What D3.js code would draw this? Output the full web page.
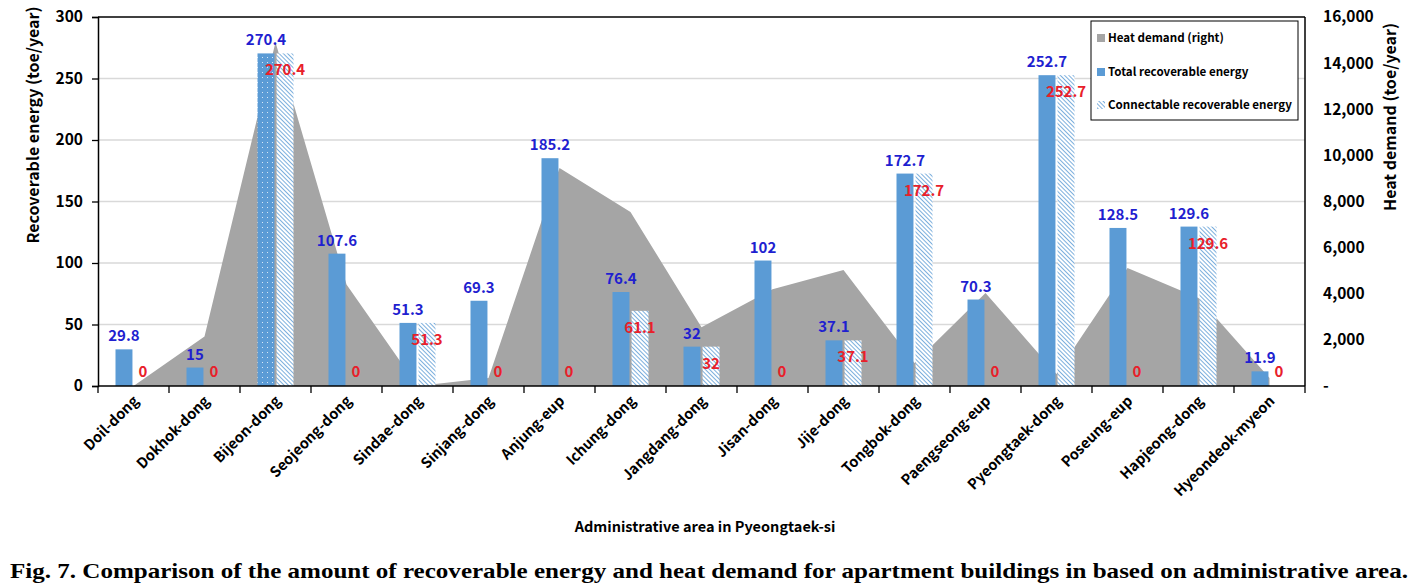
<!DOCTYPE html>
<html><head><meta charset="utf-8">
<script src="https://cdn.jsdelivr.net/npm/d3@7"></script>
<style>
html,body{margin:0;padding:0;background:#fff;}
svg{display:block;}
text{font-family:"Noto Sans CJK KR","Noto Sans",sans-serif;font-weight:bold;}
</style></head>
<body>
<svg id="chart" width="1422" height="588"></svg>
<script>
const categories = ["Doil-dong","Dokhok-dong","Bijeon-dong","Seojeong-dong","Sindae-dong","Sinjang-dong","Anjung-eup","Ichung-dong","Jangdang-dong","Jisan-dong","Jije-dong","Tongbok-dong","Paengseong-eup","Pyeongtaek-dong","Poseung-eup","Hapjeong-dong","Hyeondeok-myeon"];
const totalEnergy = [29.8,15,270.4,107.6,51.3,69.3,185.2,76.4,32,102,37.1,172.7,70.3,252.7,128.5,129.6,11.9];
const connectableEnergy = [0,0,270.4,0,51.3,0,0,61.1,32,0,37.1,172.7,0,252.7,0,129.6,0];
const heatDemand = [0,2150,14900,4400,0,350,9450,7550,2550,4200,5030,1000,4030,520,5120,3820,350];
const leftTicks = [0,50,100,150,200,250,300];
const rightTicks = [0,2000,4000,6000,8000,10000,12000,14000,16000];
const seriesNames = ["Heat demand (right)","Total recoverable energy","Connectable recoverable energy"];

const svg = d3.select("#chart");
const M = {left:98,right:1305,top:17,bottom:386};
const x = d3.scaleBand().domain(categories).range([M.left,M.right]);
const inner = d3.scaleBand().domain(["total","conn"]).range([0,36]).paddingInner(0.11);
const y = d3.scaleLinear().domain([0,300]).range([M.bottom,M.top]);
const yR = d3.scaleLinear().domain([0,16000]).range([M.bottom,M.top]);
const cx = c => x(c) + x.bandwidth()/2;
const barX = (c,k) => cx(c) - 18 + inner(k);

const defs = svg.append("defs");
const hp = defs.append("pattern").attr("id","hatch").attr("patternUnits","userSpaceOnUse")
  .attr("width",3).attr("height",3).attr("patternTransform","rotate(-45)");
hp.append("rect").attr("width",3).attr("height",3).attr("fill","#ffffff");
hp.append("line").attr("x1",0).attr("y1",0).attr("x2",0).attr("y2",3).attr("stroke","#5b9bd5").attr("stroke-width",1.6);
const dp = defs.append("pattern").attr("id","dots").attr("patternUnits","userSpaceOnUse").attr("width",5).attr("height",5);
dp.append("rect").attr("width",5).attr("height",5).attr("fill","#5b9bd5");
dp.append("rect").attr("x",2).attr("y",2).attr("width",1).attr("height",1).attr("fill","#d8e8f7");

// gridlines
svg.append("g").selectAll("line").data(leftTicks.filter(t=>t>0 && t<300)).join("line")
  .attr("x1",M.left).attr("x2",M.right).attr("y1",d=>y(d)).attr("y2",d=>y(d))
  .attr("stroke","#d9d9d9").attr("stroke-width",1.3);

// area
const area = d3.area().x((d,i)=>cx(categories[i])).y0(yR(0)).y1(d=>yR(d));
svg.append("path").datum(heatDemand).attr("d",area).attr("fill","#a5a5a5");

// bars
svg.append("g").selectAll("rect").data(categories).join("rect")
  .attr("x",c=>barX(c,"total")).attr("width",inner.bandwidth())
  .attr("y",(c,i)=>y(totalEnergy[i])).attr("height",(c,i)=>y(0)-y(totalEnergy[i]))
  .attr("fill",(c,i)=> i===2 ? "url(#dots)" : "#5b9bd5");
svg.append("g").selectAll("rect").data(categories).join("rect")
  .attr("x",c=>barX(c,"conn")).attr("width",inner.bandwidth())
  .attr("y",(c,i)=>y(connectableEnergy[i])).attr("height",(c,i)=>y(0)-y(connectableEnergy[i]))
  .attr("fill","url(#hatch)");

// plot border
svg.append("line").attr("x1",M.left).attr("x2",M.right).attr("y1",M.top).attr("y2",M.top).attr("stroke","#000").attr("stroke-width",1.5);
svg.append("line").attr("x1",M.right).attr("x2",M.right).attr("y1",M.top).attr("y2",M.bottom).attr("stroke","#000").attr("stroke-width",1.5);

// left axis
const gl = svg.append("g").attr("transform",`translate(${M.left},0)`)
  .call(d3.axisLeft(y).tickValues(leftTicks).tickSize(6).tickPadding(9));
gl.select(".domain").attr("stroke","#000").attr("stroke-width",1.5);
gl.selectAll(".tick line").attr("stroke","#000").attr("stroke-width",1.3);
gl.selectAll("text").attr("font-size",15.5).attr("fill","#000").style("font-weight","bold");

// right axis
const gr = svg.append("g").attr("transform",`translate(${M.right},0)`)
  .call(d3.axisRight(yR).tickValues(rightTicks).tickSize(0).tickPadding(18).tickFormat(d=> d===0 ? "-" : d3.format(",")(d)));
gr.select(".domain").remove();
gr.selectAll("text").attr("font-size",15.5).attr("fill","#000").style("font-weight","bold");

// bottom axis
svg.append("line").attr("x1",M.left).attr("x2",M.right).attr("y1",M.bottom).attr("y2",M.bottom).attr("stroke","#000").attr("stroke-width",1.5);
const bounds = categories.map(c=>x(c)).concat([M.right]);
svg.append("g").selectAll("line").data(bounds).join("line")
  .attr("x1",d=>d).attr("x2",d=>d).attr("y1",M.bottom).attr("y2",M.bottom+7)
  .attr("stroke","#000").attr("stroke-width",1.3);
svg.append("g").selectAll("text").data(categories).join("text")
  .attr("transform",c=>`translate(${cx(c)+6},${M.bottom+16}) rotate(-45)`)
  .attr("text-anchor","end").attr("font-size",14.5).attr("fill","#000").text(c=>c);

// labels
svg.append("g").selectAll("text").data(categories).join("text")
  .attr("x",c=>barX(c,"total")+inner.bandwidth()/2).attr("y",(c,i)=>y(totalEnergy[i])-8)
  .attr("text-anchor","middle").attr("font-size",15).attr("fill","#1f1fd0").text((c,i)=>totalEnergy[i]);
svg.append("g").selectAll("text").data(categories).join("text")
  .attr("x",c=>barX(c,"conn")+inner.bandwidth()/2)
  .attr("y",(c,i)=>connectableEnergy[i]===0 ? y(0)-9 : y(connectableEnergy[i])+22)
  .attr("text-anchor","middle").attr("font-size",15).attr("fill","#e8202a").text((c,i)=>connectableEnergy[i]);

// axis titles
svg.append("text").attr("transform","translate(39,125) rotate(-90)").attr("text-anchor","middle")
  .attr("font-size",16).attr("fill","#000").text("Recoverable energy (toe/year)");
svg.append("text").attr("transform","translate(1396,117) rotate(-90)").attr("text-anchor","middle")
  .attr("font-size",16).attr("fill","#000").text("Heat demand  (toe/year)");
svg.append("text").attr("x",705).attr("y",532).attr("text-anchor","middle")
  .attr("font-size",14.5).attr("fill","#000").text("Administrative area in Pyeongtaek-si");

// legend
const lg = svg.append("g");
lg.append("rect").attr("x",1091).attr("y",21).attr("width",207).attr("height",99)
  .attr("fill","#fff").attr("stroke","#000").attr("stroke-width",1);
const legFills = ["#a5a5a5","#5b9bd5","url(#hatch)"];
const legY = [38,72,105];
seriesNames.forEach((n,i)=>{
  lg.append("rect").attr("x",1097).attr("y",legY[i]-4).attr("width",8).attr("height",8).attr("fill",legFills[i]);
  lg.append("text").attr("x",1108).attr("y",legY[i]+4).attr("font-size",11.6).attr("fill","#000").text(n);
});

// caption
svg.append("text").attr("x",10).attr("y",578).attr("font-size",21)
  .attr("textLength",1398).attr("lengthAdjust","spacingAndGlyphs")
  .style("font-family","'Liberation Serif','Times New Roman',serif").style("font-weight","bold")
  .attr("fill","#000")
  .text("Fig. 7. Comparison of the amount of recoverable energy and heat demand for apartment buildings in based on administrative area.");
</script>
</body></html>
